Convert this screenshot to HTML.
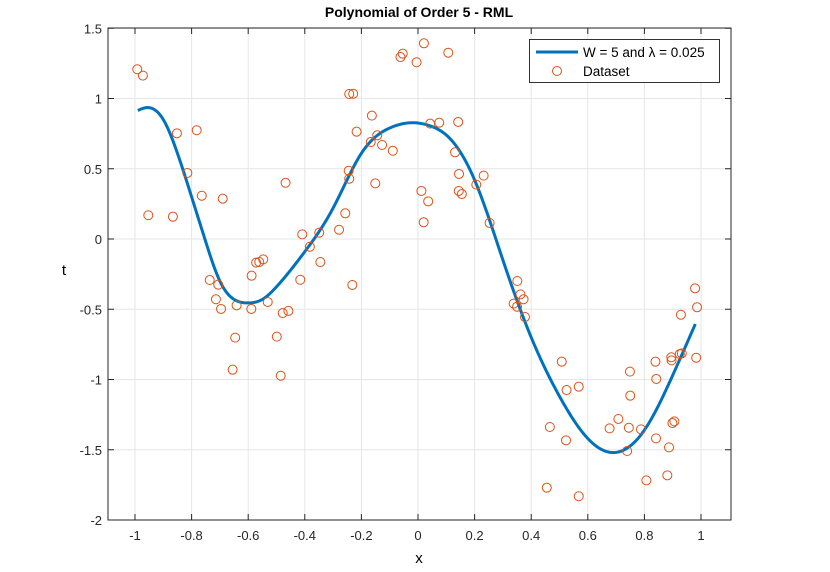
<!DOCTYPE html>
<html><head><meta charset="utf-8"><style>
body{margin:0;background:#fff;}
svg{display:block;font-family:"Liberation Sans",sans-serif;}
</style></head><body>
<svg id="chart" width="830" height="572" viewBox="0 0 830 572" xmlns="http://www.w3.org/2000/svg">
<rect width="830" height="572" fill="#fff"/>
<g id="grid"></g>
<g id="curve"></g>
<g id="points"></g>
<g id="axes"></g>
<text x="419" y="17" text-anchor="middle" font-size="14" font-weight="bold">Polynomial of Order 5 - RML</text>
<text x="419" y="563" text-anchor="middle" font-size="15">x</text>
<text x="64" y="275" text-anchor="middle" font-size="15">t</text>
<g>
<rect x="529.5" y="39.5" width="190" height="43" fill="#fff" stroke="#333" stroke-width="1"/>
<line x1="536" y1="52" x2="578" y2="52" stroke="#0072bd" stroke-width="3"/>
<text x="583" y="57" font-size="13.5">W = 5 and λ = 0.025</text>
<circle cx="557" cy="71" r="4.5" fill="none" stroke="#d95319" stroke-width="1"/>
<text x="583" y="76" font-size="13.5">Dataset</text>
</g>
</svg>
<script>
const xTicks=[-1,-0.8,-0.6,-0.4,-0.2,0,0.2,0.4,0.6,0.8,1];
const xTickLabels=["-1","-0.8","-0.6","-0.4","-0.2","0","0.2","0.4","0.6","0.8","1"];
const yTicks=[-2,-1.5,-1,-0.5,0,0.5,1,1.5];
const yTickLabels=["-2","-1.5","-1","-0.5","0","0.5","1","1.5"];
const curveX=[-0.99,-0.96,-0.9,-0.85,-0.8,-0.75,-0.7,-0.65,-0.6,-0.55,-0.5,-0.4,-0.3,-0.2,-0.1,-0.04,0.05,0.1,0.2,0.3,0.4,0.5,0.6,0.69,0.8,0.9,0.98];
const curveT=[0.915,0.935,0.85,0.61,0.30,-0.02,-0.30,-0.43,-0.455,-0.43,-0.34,-0.09,0.22,0.61,0.79,0.825,0.80,0.74,0.42,-0.15,-0.70,-1.12,-1.42,-1.52,-1.36,-0.97,-0.605];
const dataX=[-0.992,-0.972,-0.852,-0.782,-0.815,-0.953,-0.866,-0.764,-0.690,-0.468,-0.243,-0.229,-0.163,-0.217,-0.167,-0.144,-0.127,-0.089,-0.245,-0.243,-0.151,-0.257,-0.279,-0.409,-0.349,-0.382,-0.345,-0.062,-0.054,-0.005,
-0.572,-0.561,-0.547,-0.588,-0.736,-0.706,-0.416,-0.232,-0.714,-0.696,-0.641,-0.589,-0.531,-0.478,-0.458,-0.646,-0.499,-0.655,-0.485,
0.021,0.107,0.043,0.075,0.142,0.131,0.145,0.232,0.206,0.012,0.144,0.155,0.036,0.020,0.253,
0.351,0.362,0.373,0.338,0.350,0.378,0.508,0.525,0.568,0.466,0.523,0.455,0.568,0.677,0.708,0.745,0.788,0.739,0.749,0.750,0.839,0.842,0.841,0.887,0.807,0.881,0.895,0.896,0.925,0.932,0.983,0.929,0.979,0.986,0.899,0.906];
const dataT=[1.208,1.163,0.752,0.774,0.47,0.169,0.159,0.308,0.287,0.40,1.032,1.034,0.878,0.764,0.69,0.738,0.669,0.628,0.486,0.429,0.396,0.183,0.066,0.033,0.045,-0.055,-0.164,1.295,1.319,1.258,
-0.168,-0.164,-0.145,-0.261,-0.292,-0.325,-0.29,-0.327,-0.429,-0.498,-0.472,-0.498,-0.448,-0.527,-0.512,-0.702,-0.695,-0.930,-0.973,
1.393,1.326,0.821,0.828,0.833,0.617,0.463,0.451,0.387,0.342,0.342,0.32,0.268,0.119,0.114,
-0.299,-0.394,-0.429,-0.460,-0.482,-0.555,-0.873,-1.075,-1.051,-1.338,-1.433,-1.770,-1.831,-1.348,-1.281,-1.343,-1.355,-1.509,-0.944,-1.115,-0.873,-0.996,-1.419,-1.483,-1.718,-1.682,-0.842,-0.864,-0.819,-0.814,-0.845,-0.539,-0.351,-0.486,-1.310,-1.298];

const L=108,R=731,T=28,B=520;
const X0=418,XS=283,Y0=239,YS=140.5;
const sx=v=>X0+v*XS, sy=v=>Y0-v*YS;
const NS='http://www.w3.org/2000/svg';
function mk(tag,attrs,parent){const e=document.createElementNS(NS,tag);for(const k in attrs)e.setAttribute(k,attrs[k]);parent.appendChild(e);return e;}
const grid=document.getElementById('grid'),axes=document.getElementById('axes');
xTicks.forEach((v,i)=>{
  const g=mk('line',{x1:sx(v),x2:sx(v),y1:T,y2:B,stroke:'#e6e6e6','stroke-width':1},grid);
  
  
  const t1=mk('line',{x1:sx(v),x2:sx(v),y1:B,y2:B-6,stroke:'#262626'},axes);
  
  
  const t2=mk('line',{x1:sx(v),x2:sx(v),y1:T,y2:T+6,stroke:'#262626'},axes);
  
  
  const lb=mk('text',{x:sx(v),y:B+20,'text-anchor':'middle','font-size':13,fill:'#262626'},axes);
  lb.textContent=xTickLabels[i];
  
  
});
yTicks.forEach((v,i)=>{
  const g=mk('line',{x1:L,x2:R,y1:sy(v),y2:sy(v),stroke:'#e6e6e6','stroke-width':1},grid);
  
  
  const t1=mk('line',{x1:L,x2:L+6,y1:sy(v),y2:sy(v),stroke:'#262626'},axes);
  
  
  const t2=mk('line',{x1:R,x2:R-6,y1:sy(v),y2:sy(v),stroke:'#262626'},axes);
  
  
  const lb=mk('text',{x:L-6,y:sy(v)+5,'text-anchor':'end','font-size':13,fill:'#262626'},axes);
  lb.textContent=yTickLabels[i];
  
  
});
const box=mk('rect',{x:L,y:T,width:R-L,height:B-T,fill:'none',stroke:'#262626','stroke-width':1},axes);


// natural cubic spline through the sampled curve points
const n=curveX.length;
const h=[];for(let i=0;i<n-1;i++)h.push(curveX[i+1]-curveX[i]);
const M=new Array(n).fill(0);
{
  const a=new Array(n).fill(0),b=new Array(n).fill(1),c=new Array(n).fill(0),r=new Array(n).fill(0);
  for(let i=1;i<n-1;i++){
    a[i]=h[i-1];b[i]=2*(h[i-1]+h[i]);c[i]=h[i];
    r[i]=6*((curveT[i+1]-curveT[i])/h[i]-(curveT[i]-curveT[i-1])/h[i-1]);
  }
  for(let i=1;i<n;i++){const w=a[i]/b[i-1];b[i]-=w*c[i-1];r[i]-=w*r[i-1];}
  M[n-1]=r[n-1]/b[n-1];
  for(let i=n-2;i>=0;i--)M[i]=(r[i]-c[i]*M[i+1])/b[i];
}
function spline(x){
  let i=0;while(i<n-2&&x>curveX[i+1])i++;
  const t1=curveX[i+1]-x,t0=x-curveX[i],hi=h[i];
  return M[i]*t1*t1*t1/(6*hi)+M[i+1]*t0*t0*t0/(6*hi)+(curveT[i]/hi-M[i]*hi/6)*t1+(curveT[i+1]/hi-M[i+1]*hi/6)*t0;
}
const x0=curveX[0],x1=curveX[n-1];
let d='';
for(let i=0;i<=400;i++){const x=x0+(x1-x0)*i/400;d+=(i?' L':'M')+sx(x).toFixed(2)+','+sy(spline(x)).toFixed(2);}
const path=mk('path',{d:d,fill:'none',stroke:'#0072bd','stroke-width':3,'stroke-linejoin':'round'},document.getElementById('curve'));


const pts=document.getElementById('points');
dataX.forEach((v,i)=>{
  const c=mk('circle',{cx:sx(v),cy:sy(dataT[i]),r:4.5,fill:'none',stroke:'#d95319','stroke-width':1},pts);
  
  
});
</script>
</body></html>
